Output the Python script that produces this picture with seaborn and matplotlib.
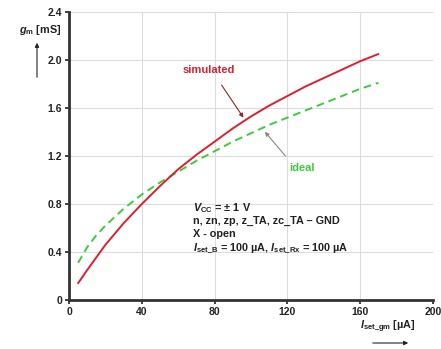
import matplotlib
matplotlib.use("Agg")
import matplotlib.pyplot as plt
import seaborn as sns
import pandas as pd

# Transconductance vs. bias current
i_sim = [5, 10, 20, 30, 40, 50, 60, 70, 80, 90, 100, 110, 120, 130, 140, 150, 160, 170]
gm_sim = [0.14, 0.25, 0.46, 0.64, 0.80, 0.95, 1.09, 1.21, 1.32, 1.43, 1.53,
          1.62, 1.70, 1.78, 1.85, 1.92, 1.99, 2.05]
i_ideal = [5, 10, 15, 20, 30, 40, 50, 60, 70, 80, 90, 100, 110, 120, 130, 140, 150, 160, 170]
gm_ideal = [0.31, 0.44, 0.54, 0.62, 0.76, 0.88, 0.98, 1.07, 1.16, 1.24, 1.32,
            1.39, 1.46, 1.52, 1.58, 1.64, 1.70, 1.76, 1.81]
x_ticks = [0, 40, 80, 120, 160, 200]
y_ticks = [0, 0.4, 0.8, 1.2, 1.6, 2.0, 2.4]
y_tick_labels = ["0", "0.4", "0.8", "1.2", "1.6", "2.0", "2.4"]

sns.set_style("whitegrid")
plt.rcParams["font.family"] = ["Liberation Sans", "DejaVu Sans"]
plt.rcParams["font.weight"] = "bold"
plt.rcParams["mathtext.fontset"] = "custom"
plt.rcParams["mathtext.rm"] = "Liberation Sans:bold"
plt.rcParams["mathtext.it"] = "Liberation Sans:italic:bold"
plt.rcParams["mathtext.bf"] = "Liberation Sans:bold"

RED = "#dd1f2f"
GREEN = "#3ccc3c"
TXT = "#222222"

fig = plt.figure(figsize=(4.41, 3.49), dpi=100)
ax = fig.add_axes([0.1565, 0.1404, 0.8255, 0.8252])

df_sim = pd.DataFrame({"I": i_sim, "gm": gm_sim})
df_ideal = pd.DataFrame({"I": i_ideal, "gm": gm_ideal})
sns.lineplot(data=df_ideal, x="I", y="gm", ax=ax, color=GREEN, lw=1.4,
             linestyle=(0, (4, 2.5)))
sns.lineplot(data=df_sim, x="I", y="gm", ax=ax, color=RED, lw=1.4)

ax.set_xlim(0, 200)
ax.set_ylim(0, 2.4)
ax.set_xticks(x_ticks)
ax.set_yticks(y_ticks)
ax.set_yticklabels(y_tick_labels)
ax.set_xlabel("")
ax.set_ylabel("")
ax.grid(True, color="#dcdcdc", lw=0.8)
ax.tick_params(axis="both", labelsize=7.5, colors=TXT, length=3, width=1.2,
               direction="out", left=True, bottom=True, pad=2)
for lbl in ax.get_xticklabels() + ax.get_yticklabels():
    lbl.set_fontweight("bold")
for side in ("top", "right"):
    ax.spines[side].set_visible(False)
for side in ("left", "bottom"):
    ax.spines[side].set_color("#333333")
    ax.spines[side].set_linewidth(2)

# Curve labels
ax.text(77, 1.92, "simulated", color=RED, fontsize=8, fontweight="bold",
        ha="center", va="center")
ax.annotate("", xy=(96.7, 1.50), xytext=(83, 1.81),
            arrowprops=dict(arrowstyle="-|>", color="#8b2a2a", lw=0.8,
                            mutation_scale=6))
ax.text(128, 1.10, "ideal", color=GREEN, fontsize=8, fontweight="bold",
        ha="center", va="center")
ax.annotate("", xy=(106.6, 1.42), xytext=(120, 1.18),
            arrowprops=dict(arrowstyle="-|>", color="#888888", lw=0.8,
                            mutation_scale=6))

# Operating conditions
cond = [r"$V_{\mathrm{CC}}$ = ± 1 V",
        "n, zn, zp, z_TA, zc_TA – GND",
        "X - open",
        r"$I_{\mathrm{set\_B}}$ = 100 µA, $I_{\mathrm{set\_Rx}}$ = 100 µA"]
for k, line in enumerate(cond):
    ax.text(68, 0.77 - k * 0.112, line, fontsize=7.8, fontweight="bold",
            color=TXT, ha="left", va="center")

# Axis labels with direction arrows
fig.text(19 / 441, 1 - 30 / 349, r"$g_{\mathrm{m}}$ [mS]", fontsize=7.8,
         fontweight="bold", color=TXT, ha="left", va="center")
fig.patches.append(matplotlib.patches.FancyArrowPatch(
    (37 / 441, 1 - 80 / 349), (37 / 441, 1 - 40 / 349),
    transform=fig.transFigure, arrowstyle="-|>", mutation_scale=6,
    color=TXT, lw=0.8))
fig.text(388 / 441, 1 - 326 / 349, r"$I_{\mathrm{set\_gm}}$ [µA]", fontsize=7.8,
         fontweight="bold", color=TXT, ha="center", va="center")
fig.patches.append(matplotlib.patches.FancyArrowPatch(
    (370 / 441, 1 - 343 / 349), (411 / 441, 1 - 343 / 349),
    transform=fig.transFigure, arrowstyle="-|>", mutation_scale=6,
    color=TXT, lw=0.8))

fig.savefig("out.png", dpi=100)
